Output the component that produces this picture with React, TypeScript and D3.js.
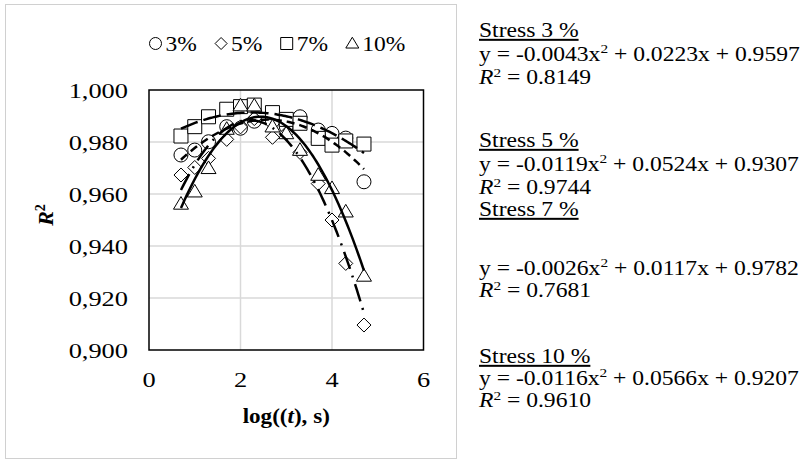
import React from "react";
import * as d3 from "d3";

// log10 of the creep time (s) at which each fit quality was evaluated
const logTime = [0.699, 1, 1.301, 1.699, 2, 2.301, 2.699, 3, 3.301, 3.699, 4, 4.301, 4.699];

// R² values for each stress level
const stress3 = [0.975, 0.9769, 0.9801, 0.9859, 0.9853, 0.988, 0.988, 0.986, 0.9897, 0.9846, 0.9833, 0.9815, 0.9647];
const stress5 = [0.9673, 0.9702, 0.9737, 0.981, 0.9858, 0.989, 0.9818, 0.9833, 0.976, 0.964, 0.95, 0.9333, 0.9096];
const stress7 = [0.9823, 0.9859, 0.9897, 0.9926, 0.9936, 0.9942, 0.9913, 0.9887, 0.9872, 0.9814, 0.9788, 0.9804, 0.9792];
const stress10 = [0.9562, 0.9609, 0.9699, 0.985, 0.994, 0.994, 0.9859, 0.9833, 0.9769, 0.9673, 0.9622, 0.9532, 0.9285];

// series names and polynomial trendline coefficients (y = a x² + b x + c)
const seriesNames = ["3%", "5%", "7%", "10%"];
const stressLabels = ["Stress 3 %", "Stress 5 %", "Stress 7 %", "Stress 10 %"];
const coefA = [-0.0043, -0.0119, -0.0026, -0.0116];
const coefB = [0.0223, 0.0524, 0.0117, 0.0566];
const coefC = [0.9597, 0.9307, 0.9782, 0.9207];
const rSquared = [0.8149, 0.9744, 0.7681, 0.961];

// axis ticks
const xTicks = [0, 2, 4, 6];
const yTicks = [0.9, 0.92, 0.94, 0.96, 0.98, 1.0];

const seriesValues = [stress3, stress5, stress7, stress10];
const markerKinds = ["circle", "diamond", "square", "triangle"];
const dashes = ["8 5", "18 7 2 7", "18 6", null];

const FONT = "'Liberation Serif','Times New Roman',serif";

const W = 809;
const H = 461;
const plot = { left: 149, right: 423.5, top: 90, bottom: 350 };

function markerPath(kind: string, s: number): string {
  const h = s / 2;
  switch (kind) {
    case "circle":
      return `M${h},0A${h},${h} 0 1,1 ${-h},0A${h},${h} 0 1,1 ${h},0Z`;
    case "diamond":
      return `M0,${-h}L${h},0L0,${h}L${-h},0Z`;
    case "square":
      return `M${-h},${-h}H${h}V${h}H${-h}Z`;
    default: {
      const th = s * 0.9;
      return `M0,${-th * 0.58}L${h + 0.5},${th * 0.42}L${-h - 0.5},${th * 0.42}Z`;
    }
  }
}

function Txt(props: {
  x: number;
  y: number;
  sx?: number;
  size: number;
  anchor?: string;
  weight?: string;
  italic?: boolean;
  underline?: boolean;
  children: React.ReactNode;
}) {
  const { x, y, sx = 1, size, anchor = "start", weight, italic, underline, children } = props;
  return (
    <text
      transform={`translate(${x},${y}) scale(${sx},1)`}
      fontFamily={FONT}
      fontSize={size}
      textAnchor={anchor}
      fontWeight={weight}
      fontStyle={italic ? "italic" : undefined}
      style={underline ? { textDecoration: "underline" } : undefined}
      fill="#000"
    >
      {children}
    </text>
  );
}

export default function App() {
  const x = d3.scaleLinear().domain([0, 6]).range([plot.left, plot.right]);
  const y = d3.scaleLinear().domain([0.9, 1.0]).range([plot.bottom, plot.top]);

  const xMin = d3.min(logTime) as number;
  const xMax = d3.max(logTime) as number;
  const fitXs = d3.range(0, 101).map((i) => xMin + ((xMax - xMin) * i) / 100);
  const line = d3
    .line<[number, number]>()
    .x((d) => x(d[0]))
    .y((d) => y(d[1]))
    .curve(d3.curveLinear);

  const fmtTick = (v: number) => d3.format(".3f")(v).replace(".", ",");

  // right-hand text block baselines
  const blocks = [
    { head: 37, eq: 61, r2: 84 },
    { head: 147, eq: 171, r2: 194 },
    { head: 216, eq: 275, r2: 297 },
    { head: 363, eq: 385, r2: 407 },
  ];
  const tx = 479;
  const tsz = 20;
  const tsx = 1.18;

  return (
    <svg
      width={W}
      height={H}
      style={{ position: "absolute", left: 0, top: 0, background: "#fff" }}
    >
      <rect x={0} y={0} width={W} height={H} fill="#fff" />
      {/* chart frame */}
      <rect x={5.5} y={4.5} width={451} height={454} fill="#fff" stroke="#d0d0d0" strokeWidth={1} />

      {/* grid */}
      {xTicks
        .filter((t) => t > 0 && t < 6)
        .map((t) => (
          <line key={`gx${t}`} x1={x(t)} x2={x(t)} y1={plot.top} y2={plot.bottom} stroke="#d9d9d9" strokeWidth={1.5} />
        ))}
      {yTicks
        .filter((t) => t > 0.9 && t < 1.0)
        .map((t) => (
          <line key={`gy${t}`} x1={plot.left} x2={plot.right} y1={y(t)} y2={y(t)} stroke="#d9d9d9" strokeWidth={1.5} />
        ))}

      {/* markers */}
      {seriesValues.map((vals, si) =>
        vals.map((v, i) => (
          <path
            key={`m${si}-${i}`}
            d={markerPath(markerKinds[si], 14)}
            transform={`translate(${x(logTime[i])},${y(v)})`}
            fill="#fff"
            stroke="#000"
            strokeWidth={1}
          />
        ))
      )}

      {/* polynomial trendlines */}
      {seriesValues.map((_, si) => {
        const pts: [number, number][] = fitXs.map((t) => [t, coefA[si] * t * t + coefB[si] * t + coefC[si]]);
        return (
          <path
            key={`fit${si}`}
            d={line(pts) || ""}
            fill="none"
            stroke="#000"
            strokeWidth={2.5}
            strokeDasharray={dashes[si] || undefined}
          />
        );
      })}

      {/* plot border */}
      <rect
        x={plot.left}
        y={plot.top}
        width={plot.right - plot.left}
        height={plot.bottom - plot.top}
        fill="none"
        stroke="#000"
        strokeWidth={1.5}
      />

      {/* y tick labels */}
      {yTicks.map((t) => (
        <Txt key={`yl${t}`} x={128} y={y(t) + 8} size={22} sx={1.2} anchor="end">
          {fmtTick(t)}
        </Txt>
      ))}
      {/* x tick labels */}
      {xTicks.map((t) => (
        <Txt key={`xl${t}`} x={x(t)} y={387} size={22} sx={1.2} anchor="middle">
          {String(t)}
        </Txt>
      ))}

      {/* axis titles */}
      <Txt x={x(3)} y={423} size={22} sx={1.05} anchor="middle" weight="bold">
        log((<tspan fontStyle="italic">t</tspan>), s)
      </Txt>
      <text
        transform={`translate(53,215) rotate(-90)`}
        fontFamily={FONT}
        fontSize={22}
        fontWeight="bold"
        fontStyle="italic"
        textAnchor="middle"
      >
        R<tspan fontSize={14} dy={-8} fontStyle="normal">2</tspan>
      </text>

      {/* legend */}
      {seriesNames.map((name, i) => {
        const cx = 155.5 + i * 65.6;
        return (
          <g key={`lg${i}`}>
            <path
              d={markerPath(markerKinds[i], 12)}
              transform={`translate(${cx},${43.5})`}
              fill="none"
              stroke="#000"
              strokeWidth={1}
            />
            <Txt x={cx + 10} y={51} size={21} sx={1.12}>
              {name}
            </Txt>
          </g>
        );
      })}

      {/* trendline equations */}
      {blocks.map((b, i) => (
        <g key={`eq${i}`}>
          <Txt x={tx} y={b.head} size={tsz} sx={tsx} underline>
            {stressLabels[i]}
          </Txt>
          <Txt x={tx} y={b.eq} size={tsz} sx={tsx}>
            {`y = ${coefA[i].toFixed(4)}x`}
            <tspan fontSize={13} dy={-8}>2</tspan>
            <tspan dy={8}>{` + ${coefB[i].toFixed(4)}x + ${coefC[i].toFixed(4)}`}</tspan>
          </Txt>
          <Txt x={tx} y={b.r2} size={tsz} sx={tsx}>
            <tspan fontStyle="italic">R</tspan>
            <tspan fontSize={13} dy={-7}>2</tspan>
            <tspan dy={7}>{` = ${rSquared[i].toFixed(4)}`}</tspan>
          </Txt>
        </g>
      ))}
    </svg>
  );
}
